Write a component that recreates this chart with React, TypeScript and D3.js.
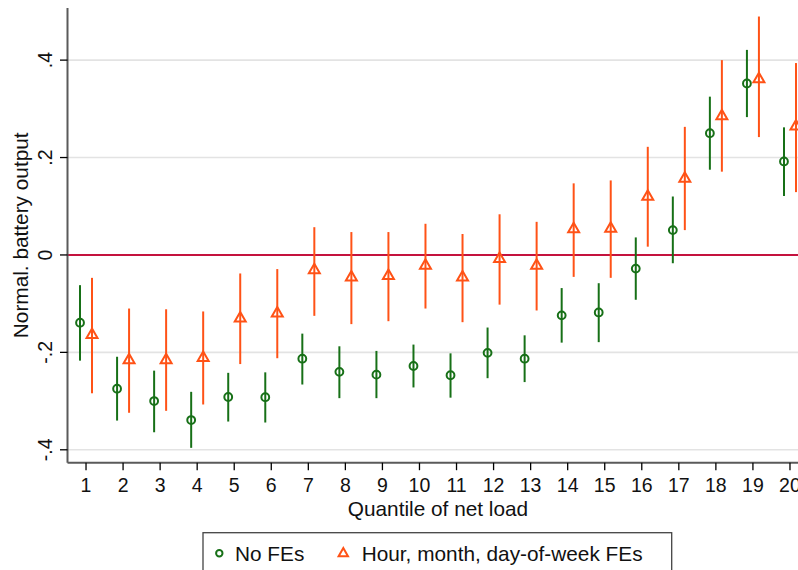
import React from "react";
import * as d3 from "d3";

const quantiles = d3.range(1, 21);
const yTicks = [-0.4, -0.2, 0, 0.2, 0.4];
const yTickLabels = ["-.4", "-.2", "0", ".2", ".4"];

const noFEEst = [-0.139, -0.2745, -0.3, -0.339, -0.2916, -0.292, -0.213, -0.24, -0.2457, -0.228, -0.247, -0.201, -0.213, -0.124, -0.118, -0.028, 0.051, 0.25, 0.352, 0.192];
const noFELo = [-0.217, -0.34, -0.364, -0.396, -0.342, -0.344, -0.266, -0.294, -0.294, -0.272, -0.293, -0.253, -0.261, -0.18, -0.179, -0.092, -0.017, 0.175, 0.283, 0.121];
const noFEHi = [-0.062, -0.209, -0.2375, -0.281, -0.242, -0.241, -0.1615, -0.1875, -0.197, -0.184, -0.202, -0.149, -0.165, -0.068, -0.058, 0.036, 0.12, 0.325, 0.421, 0.262];

const feEst = [-0.164, -0.2156, -0.2156, -0.211, -0.13, -0.12, -0.031, -0.046, -0.043, -0.022, -0.046, -0.008, -0.022, 0.053, 0.054, 0.12, 0.157, 0.285, 0.361, 0.264];
const feLo = [-0.284, -0.324, -0.32, -0.307, -0.224, -0.212, -0.125, -0.142, -0.136, -0.11, -0.138, -0.102, -0.114, -0.045, -0.047, 0.017, 0.051, 0.171, 0.242, 0.129];
const feHi = [-0.047, -0.11, -0.1115, -0.116, -0.038, -0.029, 0.057, 0.047, 0.047, 0.064, 0.043, 0.0835, 0.068, 0.147, 0.153, 0.222, 0.263, 0.4, 0.4895, 0.394];

const seriesNames = ["No FEs", "Hour, month, day-of-week FEs"];

const W = 798;
const H = 570;
const GREEN = "#177017";
const ORANGE = "#FF5216";
const ZERO = "#C4123E";
const FONT = "'Liberation Sans', Arial, Helvetica, sans-serif";

export default function App() {
  const left = 67.5;
  const bottom = 462.7;
  const top = 8;
  const x = d3.scaleLinear().domain([0.5, 20.5]).range([left, 808.5]);
  const y = d3.scaleLinear().domain([-0.4265, 0.507]).range([bottom, top]);
  const off = 6;

  const tri = d3.symbol().type(d3.symbolTriangle).size(52)();
  const triLegend = d3.symbol().type(d3.symbolTriangle).size(38)();

  return (
    <svg
      width={W}
      height={H}
      style={{ position: "fixed", left: 0, top: 0, background: "#fff" }}
      fontFamily={FONT}
    >
      <rect x={0} y={0} width={W} height={H} fill="#fff" />
      {yTicks.filter((t) => t !== 0).map((t) => (
        <line key={"g" + t} x1={left} x2={W} y1={y(t)} y2={y(t)} stroke="#e3e3e3" strokeWidth={1.6} />
      ))}
      <line x1={left} x2={W} y1={y(0)} y2={y(0)} stroke={ZERO} strokeWidth={2} />

      {quantiles.map((q, i) => (
        <g key={"n" + q}>
          <line x1={x(q) - off} x2={x(q) - off} y1={y(noFELo[i])} y2={y(noFEHi[i])} stroke={GREEN} strokeWidth={2} />
          <circle cx={x(q) - off} cy={y(noFEEst[i])} r={3.9} fill="none" stroke={GREEN} strokeWidth={2} />
        </g>
      ))}
      {quantiles.map((q, i) => (
        <g key={"f" + q}>
          <line x1={x(q) + off} x2={x(q) + off} y1={y(feLo[i])} y2={y(feHi[i])} stroke={ORANGE} strokeWidth={2} />
          <path d={tri} transform={`translate(${x(q) + off},${y(feEst[i])})`} fill="none" stroke={ORANGE} strokeWidth={2} />
        </g>
      ))}

      <line x1={left} x2={left} y1={top} y2={bottom} stroke="#5a5a5a" strokeWidth={2} />
      <line x1={left} x2={W} y1={bottom} y2={bottom} stroke="#5a5a5a" strokeWidth={2} />
      {yTicks.map((t, i) => (
        <g key={"yt" + t}>
          <line x1={left - 7.5} x2={left} y1={y(t)} y2={y(t)} stroke="#000" strokeWidth={1.3} />
          <text
            transform={`translate(52,${y(t)}) rotate(-90)`}
            textAnchor="middle"
            fontSize={19.5}
            fill="#111"
          >
            {yTickLabels[i]}
          </text>
        </g>
      ))}
      {quantiles.map((q) => (
        <g key={"xt" + q}>
          <line x1={x(q)} x2={x(q)} y1={bottom} y2={bottom + 7.5} stroke="#000" strokeWidth={1.3} />
          <text x={x(q)} y={492} textAnchor="middle" fontSize={19.5} fill="#111">
            {q}
          </text>
        </g>
      ))}
      <text x={438} y={516} textAnchor="middle" fontSize={20.8} fill="#111">
        Quantile of net load
      </text>
      <text transform={`translate(28,235.3) rotate(-90)`} textAnchor="middle" fontSize={20.8} fill="#111">
        Normal. battery output
      </text>

      <rect x={203} y={532.7} width={468.7} height={60} fill="#fff" stroke="#444" strokeWidth={1.3} />
      <circle cx={219.3} cy={553.3} r={3.2} fill="none" stroke={GREEN} strokeWidth={2} />
      <text x={235} y={560.5} fontSize={20.8} fill="#111">
        {seriesNames[0]}
      </text>
      <path d={triLegend} transform={`translate(343.3,553.5)`} fill="none" stroke={ORANGE} strokeWidth={2} />
      <text x={361.7} y={560.5} fontSize={20.8} fill="#111">
        {seriesNames[1]}
      </text>
    </svg>
  );
}
